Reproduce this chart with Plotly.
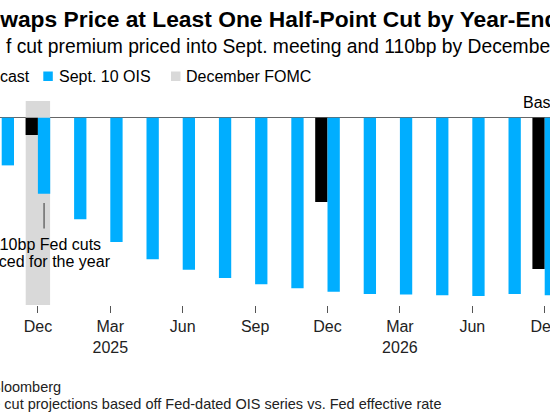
import plotly.graph_objects as go

# ---------------- data ----------------
MEETINGS = ["Nov 2024", "Dec 2024", "Jan 2025", "Mar 2025", "May 2025", "Jun 2025",
            "Jul 2025", "Sep 2025", "Oct 2025", "Dec 2025", "Jan 2026", "Mar 2026",
            "Apr 2026", "Jun 2026", "Jul 2026", "Dec 2026"]
# Sept. 10 OIS: cumulative Fed cuts priced (bp)
OIS_BP = [-69, -110, -147, -180, -205, -220, -232, -241, -247, -252,
          -255, -256, -257, -258, -255, -257]
# Forecast (year-end meetings)
FORECAST_MEETINGS = ["Dec 2024", "Dec 2025", "Dec 2026"]
FORECAST_BP = [-25, -122, -219]
# Highlighted meeting
FOMC_HIGHLIGHT = ["Dec 2024"]

TICK_VALS = ["Dec 2024", "Mar 2025", "Jun 2025", "Sep 2025", "Dec 2025",
             "Mar 2026", "Jun 2026", "Dec 2026"]
TICK_LABELS = ["Dec", "Mar<br>2025", "Jun", "Sep", "Dec", "Mar<br>2026", "Jun", "Dec"]

TITLE = "Swaps Price at Least One Half-Point Cut by Year-End"
SUBTITLE = "f cut premium priced into Sept. meeting and 110bp by December"
LEGEND_NAMES = ["Forecast", "Sept. 10 OIS", "December FOMC"]
ANNOT_LINES = ["110bp Fed cuts", "priced for the year"]
BASE_LABEL = "Base case"
SOURCE = "Source: Bloomberg"
NOTE = "Note: Rate cut projections based off Fed-dated OIS series vs. Fed effective rate"

# ---------------- styles / layout ----------------
W, H = 550, 412
M_T, M_B = 101, 107
Y_MIN, Y_MAX = -271.1, 24.2
X_RANGE = [-0.047, 15.146]
BLUE = "#00aeff"
BLACK = "#000000"
GREY = "#d9d9d9"
FONT = "Arial, Liberation Sans, Helvetica, sans-serif"
BAR_W = 0.34


def py(px):
    return (H - M_B - px) / (H - M_T - M_B)


def pxx(px):
    return px / W


fig = go.Figure()
fig.add_bar(x=FOMC_HIGHLIGHT, y=[Y_MAX - Y_MIN] * len(FOMC_HIGHLIGHT), base=Y_MIN,
            offset=-0.337, width=0.674, marker=dict(color=GREY, line=dict(width=0)),
            name=LEGEND_NAMES[2], showlegend=False, hoverinfo="skip")
fig.add_bar(x=FORECAST_MEETINGS, y=FORECAST_BP, offset=-BAR_W, width=BAR_W,
            marker=dict(color=BLACK, line=dict(width=0)), name=LEGEND_NAMES[0],
            showlegend=False)
fig.add_bar(x=MEETINGS, y=OIS_BP, offset=0, width=BAR_W,
            marker=dict(color=BLUE, line=dict(width=0)), name=LEGEND_NAMES[1],
            showlegend=False)

ann = []
shapes = []


def text(t, x_px, base_px, fs, bold=False, anchor="left", color="#000"):
    ann.append(dict(text=("<b>%s</b>" % t) if bold else t, xref="paper", yref="paper",
                    x=pxx(x_px), y=py(base_px - 0.3465 * fs), xanchor=anchor,
                    yanchor="middle", showarrow=False, borderpad=0,
                    font=dict(family=FONT, size=fs, color=color)))


text(TITLE, -16, 27, 22.8, bold=True)
text(SUBTITLE, 4.7, 53, 19.3)

# legend (manual)
leg_items = [(-49.2, BLACK, LEGEND_NAMES[0]), (43.3, BLUE, LEGEND_NAMES[1]),
             (171.0, GREY, LEGEND_NAMES[2])]
for x0, col, name in leg_items:
    shapes.append(dict(type="rect", xref="paper", yref="paper", x0=pxx(x0), x1=pxx(x0 + 9.5),
                       y0=py(81), y1=py(71.5), fillcolor=col, line=dict(width=0), layer="above"))
text(LEGEND_NAMES[0], -34.2, 82, 16)
text(LEGEND_NAMES[1], 57.5, 82, 16)
text(LEGEND_NAMES[2], 185.4, 82, 16)

# annotation
text(ANNOT_LINES[0], 46, 250, 16, anchor="center")
text(ANNOT_LINES[1], 46, 266.7, 16, anchor="center")
ann.append(dict(x=MEETINGS[1], y=OIS_BP[1], xref="x", yref="y", xshift=BAR_W * 36.2 / 2,
                text="", showarrow=True, arrowhead=0, arrowwidth=1, arrowcolor="#333",
                ax=0, ay=36.3, standoff=9.3))
text(BASE_LABEL, 521.8, 108, 16)
text(SOURCE, -64.2, 392, 14.5, color="#222")
text(NOTE, -69.7, 409, 14.5, color="#222")

fig.update_layout(
    template="none",
    width=W, height=H,
    margin=dict(l=0, r=0, t=M_T, b=M_B, pad=0),
    paper_bgcolor="white", plot_bgcolor="white",
    barmode="overlay", showlegend=False,
    annotations=ann, shapes=shapes,
    font=dict(family=FONT, color="#222"),
)
fig.update_xaxes(type="category", categoryorder="array", categoryarray=MEETINGS,
                 range=X_RANGE, tickmode="array", tickvals=TICK_VALS, ticktext=TICK_LABELS,
                 ticks="outside", ticklen=7, tickwidth=1, tickcolor="#555",
                 showgrid=False, showline=False, zeroline=False, automargin=False,
                 tickfont=dict(family=FONT, size=16, color="#222"))
fig.update_yaxes(range=[Y_MIN, Y_MAX], showgrid=False, showticklabels=False, ticks="",
                 zeroline=True, zerolinecolor="#666", zerolinewidth=1, showline=False,
                 automargin=False)

fig.write_html("out.html", config={"displayModeBar": False},
               post_script="document.body.style.margin='0';document.body.style.overflow='hidden';")
